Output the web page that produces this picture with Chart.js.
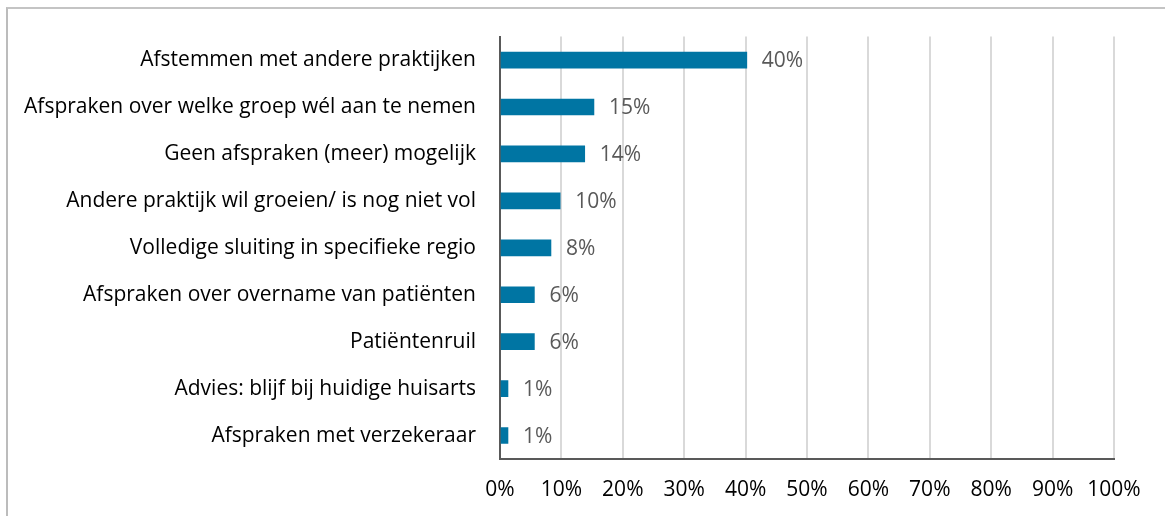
<!DOCTYPE html>
<html lang="nl">
<head>
<meta charset="UTF-8">
<title>Afspraken</title>
<script src="https://cdn.jsdelivr.net/npm/chart.js@4"></script>
<style>
  html, body { margin: 0; padding: 0; background: #fff; overflow: hidden; }
  .frame {
    position: absolute; left: 6px; top: 7px;
    width: 1300px; height: 700px;
    border-left: 2px solid #bcbcbc; border-top: 2px solid #c4c4c4;
  }
  .wrap { position: absolute; left: 0; top: 0; width: 1165px; height: 516px; }
</style>
</head>
<body>
<div class="frame"></div>
<div class="wrap"><canvas id="chart"></canvas></div>
<script>
const categories = [
  "Afstemmen met andere praktijken",
  "Afspraken over welke groep wél aan te nemen",
  "Geen afspraken (meer) mogelijk",
  "Andere praktijk wil groeien/ is nog niet vol",
  "Volledige sluiting in specifieke regio",
  "Afspraken over overname van patiënten",
  "Patiëntenruil",
  "Advies: blijf bij huidige huisarts",
  "Afspraken met verzekeraar"
];
const values = [40.2, 15.3, 13.8, 9.8, 8.3, 5.6, 5.6, 1.3, 1.3];
const valueLabels = ["40%", "15%", "14%", "10%", "8%", "6%", "6%", "1%", "1%"];
const xTicks = [0, 10, 20, 30, 40, 50, 60, 70, 80, 90, 100];

const FONT = "'Open Sans', sans-serif";
const SIZE = 21;

// draws the percentage next to each bar
const barLabels = {
  id: "barLabels",
  afterDatasetsDraw(chart) {
    const ctx = chart.ctx;
    const meta = chart.getDatasetMeta(0);
    ctx.save();
    ctx.font = SIZE + "px " + FONT;
    ctx.fillStyle = "#595959";
    ctx.textBaseline = "middle";
    ctx.textAlign = "left";
    meta.data.forEach((bar, i) => {
      ctx.fillText(valueLabels[i], bar.x + 15, bar.y + 1);
    });
    ctx.restore();
  }
};

new Chart(document.getElementById("chart"), {
  type: "bar",
  data: {
    labels: categories,
    datasets: [{
      data: values,
      backgroundColor: "#0075a3",
      borderWidth: 0,
      barThickness: 16
    }]
  },
  plugins: [barLabels],
  options: {
    indexAxis: "y",
    responsive: true,
    maintainAspectRatio: false,
    animation: false,
    layout: { padding: { top: 36, right: 51, left: 0, bottom: 0 } },
    plugins: { legend: { display: false }, tooltip: { enabled: false } },
    scales: {
      x: {
        min: 0, max: 100,
        afterBuildTicks(scale) { scale.ticks = xTicks.map(v => ({ value: v })); },
        afterFit(scale) { scale.height = 57; },
        grid: { color: "#d9d9d9", lineWidth: 2, drawTicks: false },
        border: { color: "#595959", width: 2 },
        ticks: {
          padding: 18,
          color: "#000",
          font: { family: FONT, size: SIZE },
          callback: v => v + "%"
        }
      },
      y: {
        afterFit(scale) { scale.width = 500; },
        grid: { display: false, drawTicks: false },
        border: { color: "#595959", width: 2 },
        ticks: {
          padding: 24,
          color: "#000",
          font: { family: FONT, size: SIZE }
        }
      }
    }
  }
});
</script>
</body>
</html>
